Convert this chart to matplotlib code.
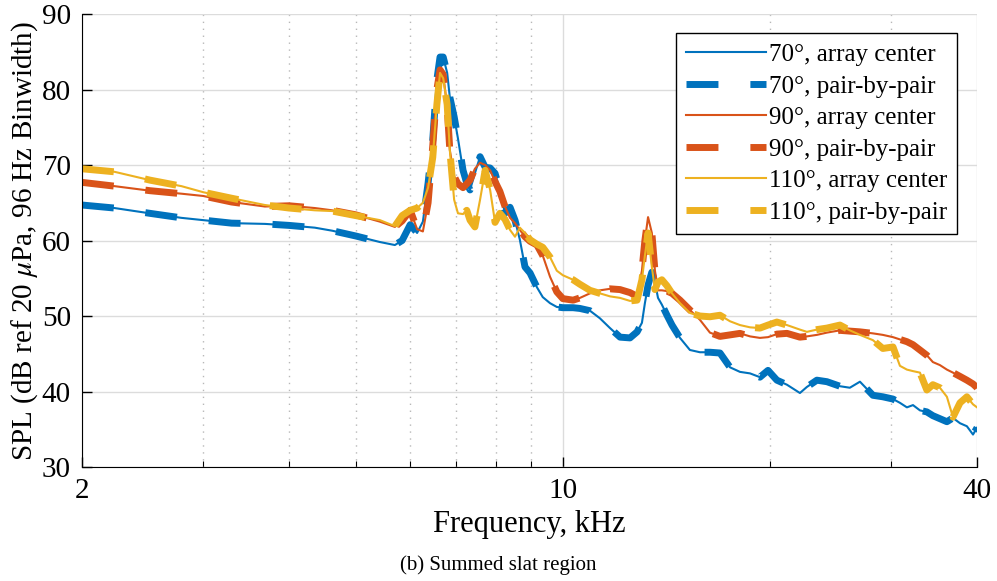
import numpy as np
import matplotlib
matplotlib.use("Agg")
import matplotlib.pyplot as plt
from matplotlib.ticker import FixedLocator, FixedFormatter, NullFormatter

plt.rcParams['font.family'] = ['Liberation Serif', 'DejaVu Serif']
plt.rcParams['mathtext.fontset'] = 'stix'

# Частоты, кГц (общая сетка для всех кривых)
freq_khz = [2.00, 2.23, 2.51, 2.79, 3.00, 3.30, 3.69, 4.00, 4.36, 4.62,
            5.00, 5.42, 5.70, 5.84, 6.00, 6.14, 6.26, 6.37, 6.47, 6.56,
            6.63, 6.70, 6.79, 6.85, 6.95, 7.04, 7.16, 7.25, 7.33, 7.45,
            7.58, 7.71, 7.84, 7.97, 8.10, 8.24, 8.38, 8.52, 8.66, 8.81,
            8.96, 9.17, 9.35, 9.58, 9.80, 10.0, 10.35, 10.59, 10.95, 11.32,
            11.71, 12.11, 12.52, 12.82, 13.03, 13.16, 13.30, 13.47, 13.61, 13.75,
            13.93, 14.17, 14.41, 14.80, 15.30, 15.82, 16.36, 16.92, 17.50, 18.09,
            18.71, 19.34, 19.87, 20.47, 21.17, 22.11, 22.63, 23.40, 24.20, 25.28,
            26.13, 27.03, 28.23, 29.18, 30.19, 30.90, 31.63, 32.28, 33.04, 33.81,
            34.50, 35.32, 36.16, 36.90, 37.78, 38.66, 39.46, 40.0]

spl_70 = [64.7, 64.3, 63.6, 63.0, 62.7, 62.3, 62.2, 62.0, 61.7, 61.3,
          60.6, 59.8, 59.4, 60.0, 62.1, 61.0, 62.5, 67.6, 73.3, 81.3,
          84.3, 84.3, 82.2, 79.0, 76.4, 73.5, 69.3, 67.6, 66.7, 68.9,
          71.1, 69.7, 69.6, 68.9, 66.7, 63.6, 64.4, 62.7, 60.1, 56.5,
          55.7, 53.8, 52.5, 51.7, 51.2, 51.1, 51.1, 51.0, 50.7, 49.7,
          48.4, 47.2, 47.1, 47.9, 49.1, 51.7, 54.1, 55.8, 54.5, 52.4,
          51.5, 50.1, 48.8, 47.1, 45.5, 45.2, 45.2, 45.1, 43.2, 42.6,
          42.4, 41.9, 42.8, 41.5, 40.9, 39.8, 40.6, 41.5, 41.3, 40.7,
          40.5, 41.3, 39.5, 39.3, 39.0, 38.5, 37.9, 38.2, 37.5, 37.3,
          36.8, 36.4, 36.0, 36.5, 35.8, 35.4, 34.3, 35.2]

spl_90 = [67.7, 67.2, 66.6, 66.2, 65.9, 65.1, 64.5, 64.6, 64.3, 64.0,
          63.4, 62.5, 61.8, 62.6, 64.0, 61.5, 61.2, 65.0, 72.5, 80.0,
          82.6, 82.0, 77.7, 72.0, 68.5, 67.5, 67.0, 67.5, 68.0, 69.5,
          70.3, 70.0, 69.3, 67.8, 66.5, 64.5, 63.0, 62.3, 61.4, 60.5,
          59.9, 59.4, 58.0, 55.2, 53.2, 52.3, 52.1, 52.4, 53.0, 53.4,
          53.6, 53.5, 53.1, 52.6, 56.0, 60.0, 63.1, 61.0, 56.0, 53.4,
          53.4, 53.3, 53.0, 52.1, 50.8, 49.5, 47.8, 47.3, 47.5, 47.7,
          47.3, 47.1, 47.2, 47.6, 47.7, 47.2, 47.3, 47.5, 47.8, 48.1,
          48.0, 47.9, 47.7, 47.5, 47.2, 46.9, 46.6, 46.2, 45.5, 44.8,
          43.9, 43.5, 42.9, 42.5, 42.0, 41.5, 41.0, 40.5]

spl_110 = [69.5, 69.1, 68.0, 67.2, 66.4, 65.6, 64.7, 64.3, 64.0, 63.9,
           63.3, 62.7, 61.9, 63.3, 64.0, 64.3, 65.0, 67.0, 71.0, 78.0,
           82.2, 81.5, 78.0, 72.0, 65.4, 63.6, 63.5, 64.0, 62.7, 61.8,
           65.4, 69.3, 66.7, 62.4, 63.6, 62.8, 61.4, 60.5, 61.7, 61.0,
           60.1, 59.5, 59.1, 57.8, 56.0, 55.4, 54.8, 54.2, 53.4, 53.0,
           52.6, 52.4, 52.0, 52.1, 54.8, 58.0, 61.0, 56.5, 53.5, 54.5,
           54.8, 54.0, 53.0, 51.7, 50.4, 50.0, 49.9, 50.1, 49.3, 48.8,
           48.5, 48.4, 48.8, 49.2, 48.8, 48.2, 47.9, 48.2, 48.4, 48.8,
           48.1, 47.5, 46.8, 45.7, 45.9, 43.4, 42.9, 42.7, 42.5, 40.2,
           40.9, 40.5, 39.3, 36.6, 38.5, 39.3, 38.3, 37.9]

angles = ['70', '90', '110']
series = [spl_70, spl_90, spl_110]
colors = ['#0072BD', '#D95319', '#EDB120']

fig = plt.figure(figsize=(9.97, 5.81), dpi=100)
ax = fig.add_axes([0.0822, 0.1962, 0.8978, 0.7797])

for ang, spl, col in zip(angles, series, colors):
    ax.plot(freq_khz, spl, color=col, lw=1.5,
            label=f"{ang}°, array center")
    ax.plot(freq_khz, spl, color=col, lw=5, ls=(0, (4.6, 4.6)),
            dash_capstyle='butt', label=f"{ang}°, pair-by-pair")

ax.set_xscale('log')
ax.set_xlim(2, 40)
ax.set_ylim(30, 90)
ax.xaxis.set_major_locator(FixedLocator([2, 10, 40]))
ax.xaxis.set_major_formatter(FixedFormatter(['2', '10', '40']))
ax.xaxis.set_minor_locator(FixedLocator([3, 4, 5, 6, 7, 8, 9, 20, 30]))
ax.xaxis.set_minor_formatter(NullFormatter())
ax.set_yticks(np.arange(30, 91, 10))

ax.spines['top'].set_visible(False)
ax.spines['right'].set_visible(False)
ax.tick_params(which='both', direction='in', labelsize=21)
ax.tick_params(which='major', length=7, width=1, pad=8)
ax.tick_params(which='minor', length=4, width=0.8)

ax.grid(which='major', color='#dcdcdc', lw=1, ls='-')
ax.grid(which='minor', axis='x', color='#b8b8b8', lw=1, ls=(0, (1, 4)))
ax.set_axisbelow(True)

ax.set_xlabel("Frequency, kHz", fontsize=22, labelpad=4)
ax.set_ylabel("SPL (dB ref 20 $\\mu$Pa, 96 Hz Binwidth)", fontsize=21, labelpad=1)

leg = ax.legend(loc='upper right', bbox_to_anchor=(0.978, 0.958), fontsize=18,
                handlelength=3.2, handletextpad=0.1, labelspacing=0.36,
                borderpad=0.42, borderaxespad=0, fancybox=False, framealpha=1)
leg.get_frame().set_edgecolor('black')
leg.get_frame().set_linewidth(1)

fig.text(0.5, 0.028, "(b) Summed slat region", ha='center', va='center', fontsize=15)

fig.savefig("out.png", dpi=100)
